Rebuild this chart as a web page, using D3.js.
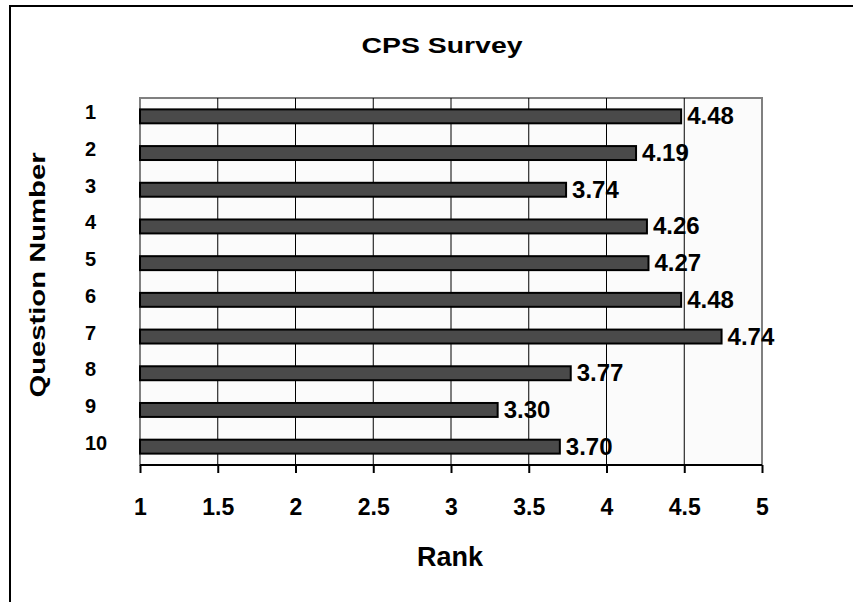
<!DOCTYPE html>
<html>
<head>
<meta charset="utf-8">
<script src="https://cdn.jsdelivr.net/npm/d3@7.9.0/dist/d3.min.js"></script>
<style>
  html, body { margin: 0; padding: 0; background: #fff; }
  svg { display: block; font-family: 'Liberation Sans', Arial, sans-serif; font-weight: bold; }
</style>
</head>
<body>
<svg id="chart" width="857" height="602"></svg>
<script>
const questions = ['1', '2', '3', '4', '5', '6', '7', '8', '9', '10'];
const ranks = [4.48, 4.19, 3.74, 4.26, 4.27, 4.48, 4.74, 3.77, 3.30, 3.70];
const rankTicks = [1, 1.5, 2, 2.5, 3, 3.5, 4, 4.5, 5];

const svg = d3.select('#chart');
const plot = { left: 140, top: 98, right: 762, bottom: 465 };

const x = d3.scaleLinear().domain([1, 5]).range([plot.left, plot.right]);
const y = d3.scaleBand()
  .domain(questions)
  .range([plot.top, plot.bottom])
  .paddingInner(0.62)
  .paddingOuter(0.31);

// outer frame (only top and left edges show in the picture)
svg.append('path')
  .attr('d', 'M10,602 V6 H853')
  .attr('fill', 'none')
  .attr('stroke', '#000')
  .attr('stroke-width', 2);

// plot area
svg.append('rect')
  .attr('x', plot.left).attr('y', plot.top)
  .attr('width', plot.right - plot.left).attr('height', plot.bottom - plot.top)
  .attr('fill', '#fbfbfb')
  .attr('stroke', '#808080')
  .attr('stroke-width', 2);

// vertical gridlines
svg.append('g')
  .selectAll('line')
  .data(rankTicks.slice(1, -1))
  .join('line')
  .attr('x1', (d) => x(d)).attr('x2', (d) => x(d))
  .attr('y1', plot.top).attr('y2', plot.bottom)
  .attr('stroke', '#000')
  .attr('stroke-width', 1);

// x axis
const xAxis = svg.append('g')
  .attr('transform', `translate(0,${plot.bottom})`)
  .call(d3.axisBottom(x).tickValues(rankTicks).tickSize(8).tickPadding(26).tickFormat(d3.format('')));
xAxis.select('.domain').attr('stroke-width', 2).attr('d', `M${plot.left},0H${plot.right}`);
xAxis.selectAll('.tick line').attr('stroke-width', 2);
xAxis.selectAll('.tick text')
  .attr('font-size', 23)
  .attr('font-family', "'Liberation Sans', Arial, sans-serif")
  .attr('font-weight', 'bold')
  .attr('fill', '#000');

// bars
svg.append('g')
  .selectAll('rect')
  .data(questions)
  .join('rect')
  .attr('x', x(1))
  .attr('y', (d) => y(d))
  .attr('width', (d, i) => x(ranks[i]) - x(1))
  .attr('height', y.bandwidth())
  .attr('fill', '#4a4a4a')
  .attr('stroke', '#000')
  .attr('stroke-width', 2);

// value labels
svg.append('g')
  .selectAll('text')
  .data(questions)
  .join('text')
  .attr('x', (d, i) => x(ranks[i]) + 6)
  .attr('y', (d) => y(d) + y.bandwidth() / 2 + 8)
  .attr('font-size', 24)
  .attr('fill', '#000')
  .text((d, i) => ranks[i].toFixed(2));

// category labels
svg.append('g')
  .selectAll('text')
  .data(questions)
  .join('text')
  .attr('x', 85)
  .attr('y', (d) => y(d) + y.bandwidth() / 2 + 3)
  .attr('font-size', 20)
  .attr('fill', '#000')
  .text((d) => d);

// titles
svg.append('text')
  .attr('x', 442).attr('y', 53)
  .attr('text-anchor', 'middle')
  .attr('font-size', 22)
  .attr('textLength', 161)
  .attr('lengthAdjust', 'spacingAndGlyphs')
  .text('CPS Survey');

svg.append('text')
  .attr('transform', 'translate(45,275) rotate(-90)')
  .attr('text-anchor', 'middle')
  .attr('font-size', 22)
  .attr('textLength', 245)
  .attr('lengthAdjust', 'spacingAndGlyphs')
  .text('Question Number');

svg.append('text')
  .attr('x', 450).attr('y', 566)
  .attr('text-anchor', 'middle')
  .attr('font-size', 27)
  .text('Rank');
</script>
</body>
</html>
